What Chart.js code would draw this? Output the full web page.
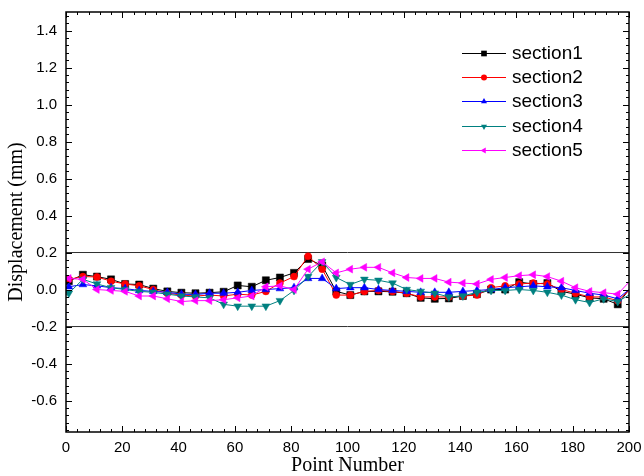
<!DOCTYPE html>
<html><head><meta charset="utf-8">
<script src="https://cdn.jsdelivr.net/npm/chart.js@4/dist/chart.umd.min.js"></script>
<style>html,body{margin:0;padding:0;background:#fff;}#c{display:block;}</style>
</head><body>
<canvas id="c" width="644" height="476"></canvas>
<script>
const pointNumber = [0,1,6,11,16,21,26,31,36,41,46,51,56,61,66,71,76,81,86,91,96,101,106,111,116,121,126,131,136,141,146,151,156,161,166,171,176,181,186,191,196,200];
const section1 = [0.04,0.045,0.08,0.07,0.055,0.03,0.027,0.005,-0.01,-0.017,-0.02,-0.017,-0.012,0.022,0.015,0.05,0.065,0.09,0.165,0.13,-0.01,-0.03,-0.01,-0.01,-0.012,-0.02,-0.045,-0.05,-0.048,-0.035,-0.025,0.0,0.0,0.04,0.03,0.035,-0.01,-0.025,-0.045,-0.05,-0.08,0.0];
const section2 = [0.06,0.055,0.07,0.068,0.045,0.03,0.02,0.0,-0.02,-0.03,-0.035,-0.03,-0.035,-0.025,-0.03,-0.01,0.035,0.07,0.18,0.11,-0.03,-0.03,-0.01,-0.005,-0.01,-0.02,-0.04,-0.04,-0.04,-0.035,-0.03,0.01,0.02,0.03,0.035,0.03,0.0,-0.02,-0.04,-0.04,-0.06,-0.005];
const section3 = [0.01,0.015,0.027,0.02,0.01,0.005,-0.005,-0.01,-0.015,-0.025,-0.027,-0.02,-0.02,-0.015,-0.005,0.0,0.005,0.01,0.06,0.06,0.005,0.01,0.01,0.0,-0.005,-0.01,-0.015,-0.015,-0.015,-0.01,-0.005,0.0,0.01,0.015,0.02,0.015,0.01,-0.005,-0.02,-0.03,-0.05,0.0];
const section4 = [-0.03,-0.02,0.055,0.03,0.01,0.0,-0.01,-0.015,-0.025,-0.035,-0.04,-0.045,-0.08,-0.09,-0.09,-0.09,-0.06,-0.005,0.07,0.15,0.065,0.027,0.055,0.05,0.035,0.0,-0.01,-0.02,-0.04,-0.035,-0.015,-0.005,-0.005,0.0,-0.005,-0.015,-0.03,-0.055,-0.07,-0.05,-0.065,-0.03];
const section5 = [0.065,0.06,0.055,0.0,-0.005,-0.01,-0.035,-0.035,-0.05,-0.065,-0.06,-0.06,-0.055,-0.045,-0.035,0.015,0.02,0.0,0.11,0.15,0.09,0.11,0.12,0.12,0.09,0.065,0.06,0.06,0.04,0.035,0.03,0.055,0.065,0.075,0.08,0.07,0.045,0.01,-0.01,-0.017,-0.025,0.04];
const seriesNames = ['section1','section2','section3','section4','section5'];
const limitX = [0, 200];
const upperLimit = [0.2, 0.2];
const lowerLimit = [-0.2, -0.2];
const xTickLabels = [0,20,40,60,80,100,120,140,160,180,200];
const yTickLabels = [-0.6,-0.4,-0.2,0.0,0.2,0.4,0.6,0.8,1.0,1.2,1.4];

const allSeries = [section1, section2, section3, section4, section5];
const colors = ['#000000','#ff0000','#0000ff','#008080','#ff00ff'];
const styles = [
  {pointStyle:'rect', rotation:0, r:5, lr:4},
  {pointStyle:'circle', rotation:0, r:3.5, lr:3},
  {pointStyle:'triangle', rotation:0, r:4.5, lr:3.5},
  {pointStyle:'triangle', rotation:180, r:4.5, lr:3.5},
  {pointStyle:'triangle', rotation:-90, r:4.5, lr:3.5}
];

const datasets = allSeries.map((s, i) => ({
  label: seriesNames[i],
  data: pointNumber.map((x, j) => ({x: x, y: s[j]})),
  borderColor: colors[i],
  backgroundColor: colors[i],
  borderWidth: 1,
  pointStyle: styles[i].pointStyle,
  pointRotation: styles[i].rotation,
  pointRadius: c => (c.raw && (c.raw.x === 0 || c.raw.x === 200)) ? 0 : styles[i].r,
  pointBorderWidth: 0.5,
  tension: 0,
  order: 5 - i
}));
[upperLimit, lowerLimit].forEach((lim, k) => {
  datasets.push({
    label: 'limit' + k,
    data: limitX.map((x, j) => ({x: x, y: lim[j]})),
    borderColor: '#303030',
    borderWidth: 1,
    pointRadius: 0,
    order: 10
  });
});

const frameTicks = {
  id: 'frameTicks',
  afterDraw(chart) {
    const {ctx, chartArea: a, scales: {x, y}} = chart;
    ctx.save();
    ctx.strokeStyle = '#000';
    ctx.lineWidth = 1;
    ctx.beginPath();
    for (let v = 0; v <= 200 + 1e-9; v += 4) {
      const px = Math.round(x.getPixelForValue(v)) + 0.5;
      const len = (Math.round(v) % 20 === 0) ? 6 : 3;
      ctx.moveTo(px, a.bottom); ctx.lineTo(px, a.bottom - len);
      ctx.moveTo(px, a.top); ctx.lineTo(px, a.top + len);
    }
    for (let k = -19; k <= 37; k++) {
      const v = k * 0.04;
      if (v < y.min - 1e-9 || v > y.max + 1e-9) continue;
      const py = Math.round(y.getPixelForValue(v)) + 0.5;
      const len = (k % 5 === 0) ? 6 : 3;
      ctx.moveTo(a.left, py); ctx.lineTo(a.left + len, py);
      ctx.moveTo(a.right, py); ctx.lineTo(a.right - len, py);
    }
    ctx.stroke();
    ctx.lineWidth = 1.5;
    ctx.strokeRect(a.left, a.top, a.right - a.left, a.bottom - a.top);
    // legend
    const rows = [53, 77, 101, 126, 150];
    ctx.font = '19px "Liberation Sans", Arial, sans-serif';
    ctx.textBaseline = 'middle';
    ctx.textAlign = 'left';
    for (let i = 0; i < 5; i++) {
      const yy = rows[i];
      ctx.strokeStyle = colors[i];
      ctx.lineWidth = 1;
      ctx.beginPath();
      ctx.moveTo(462, yy + 0.5); ctx.lineTo(506, yy + 0.5);
      ctx.stroke();
      ctx.fillStyle = colors[i];
      Chart.helpers.drawPoint(ctx, {pointStyle: styles[i].pointStyle, rotation: styles[i].rotation, radius: styles[i].lr, borderWidth: 0}, 484, yy + 0.5);
      ctx.fillStyle = '#000';
      ctx.fillText(seriesNames[i], 512, yy + 1);
    }
    ctx.restore();
  }
};

new Chart(document.getElementById('c'), {
  type: 'line',
  data: {datasets},
  options: {
    responsive: false,
    animation: false,
    events: [],
    layout: {padding: {left: 0, right: 15, top: 12, bottom: 0}},
    plugins: {legend: {display: false}, tooltip: {enabled: false}},
    scales: {
      x: {
        type: 'linear', min: 0, max: 200,
        afterFit: s => { s.height = 44; s.paddingLeft = 0; s.paddingRight = 0; },
        afterBuildTicks: s => { s.ticks = xTickLabels.map(v => ({value: v})); },
        grid: {display: false, drawTicks: false},
        border: {display: false},
        ticks: {color: '#000', padding: 7, maxRotation: 0, autoSkip: false,
          font: {family: '"Liberation Sans", Arial, sans-serif', size: 15},
          callback: v => String(v)},
        title: {display: true, text: 'Point Number', color: '#000',
          font: {family: '"Liberation Serif", "Times New Roman", serif', size: 20, lineHeight: 1},
          padding: {top: 0, bottom: 0}}
      },
      y: {
        type: 'linear', min: -0.77, max: 1.5,
        afterFit: s => { s.width = 66; s.paddingTop = 0; s.paddingBottom = 0; },
        afterBuildTicks: s => { s.ticks = yTickLabels.map(v => ({value: v})); },
        grid: {display: false, drawTicks: false},
        border: {display: false},
        ticks: {color: '#000', padding: 9, autoSkip: false,
          font: {family: '"Liberation Sans", Arial, sans-serif', size: 15},
          callback: v => Number(v).toFixed(1)},
        title: {display: true, text: 'Displacement (mm)', color: '#000',
          font: {family: '"Liberation Serif", "Times New Roman", serif', size: 20, lineHeight: 1},
          padding: {top: 7, bottom: 0}}
      }
    }
  },
  plugins: [frameTicks]
});
</script>
</body></html>
